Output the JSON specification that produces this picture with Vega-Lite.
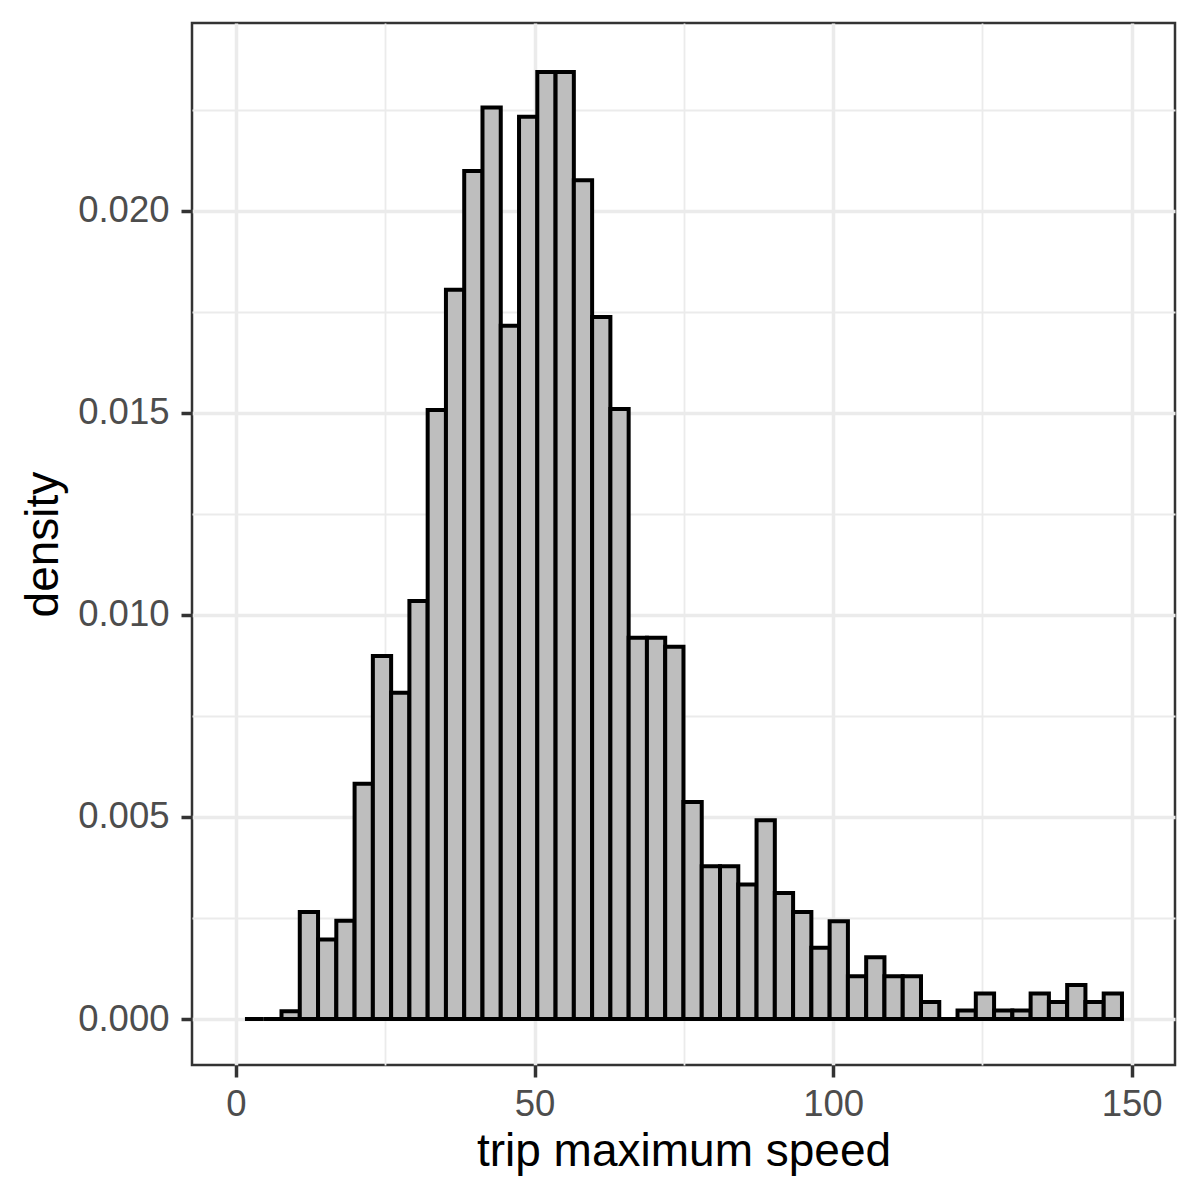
{
  "$schema": "https://vega.github.io/schema/vega-lite/v6.json",
  "width": 983,
  "height": 1042,
  "autosize": {"type": "none"},
  "padding": {"left": 192, "top": 23, "right": 25, "bottom": 135},
  "background": "white",
  "config": {
    "font": "Liberation Sans",
    "view": {"stroke": "#333333", "strokeWidth": 2.5}
  },
  "data": {
    "values": [
      {"x0": 1.50, "x1": 4.56, "density": 0},
      {"x0": 4.56, "x1": 7.62, "density": 0},
      {"x0": 7.62, "x1": 10.68, "density": 0.00019},
      {"x0": 10.68, "x1": 13.74, "density": 0.00265},
      {"x0": 13.74, "x1": 16.80, "density": 0.00197},
      {"x0": 16.80, "x1": 19.86, "density": 0.00243},
      {"x0": 19.86, "x1": 22.92, "density": 0.00582},
      {"x0": 22.92, "x1": 25.98, "density": 0.00898},
      {"x0": 25.98, "x1": 29.04, "density": 0.00807},
      {"x0": 29.04, "x1": 32.10, "density": 0.01034},
      {"x0": 32.10, "x1": 35.16, "density": 0.01507},
      {"x0": 35.16, "x1": 38.22, "density": 0.01804},
      {"x0": 38.22, "x1": 41.28, "density": 0.02098},
      {"x0": 41.28, "x1": 44.34, "density": 0.02255},
      {"x0": 44.34, "x1": 47.40, "density": 0.01715},
      {"x0": 47.40, "x1": 50.46, "density": 0.02232},
      {"x0": 50.46, "x1": 53.52, "density": 0.02343},
      {"x0": 53.52, "x1": 56.58, "density": 0.02343},
      {"x0": 56.58, "x1": 59.64, "density": 0.02075},
      {"x0": 59.64, "x1": 62.70, "density": 0.01737},
      {"x0": 62.70, "x1": 65.76, "density": 0.01509},
      {"x0": 65.76, "x1": 68.82, "density": 0.00943},
      {"x0": 68.82, "x1": 71.88, "density": 0.00943},
      {"x0": 71.88, "x1": 74.94, "density": 0.00921},
      {"x0": 74.94, "x1": 78.00, "density": 0.00537},
      {"x0": 78.00, "x1": 81.06, "density": 0.00378},
      {"x0": 81.06, "x1": 84.12, "density": 0.00378},
      {"x0": 84.12, "x1": 87.18, "density": 0.00333},
      {"x0": 87.18, "x1": 90.24, "density": 0.00492},
      {"x0": 90.24, "x1": 93.30, "density": 0.00312},
      {"x0": 93.30, "x1": 96.36, "density": 0.00265},
      {"x0": 96.36, "x1": 99.42, "density": 0.00176},
      {"x0": 99.42, "x1": 102.48, "density": 0.00242},
      {"x0": 102.48, "x1": 105.54, "density": 0.00106},
      {"x0": 105.54, "x1": 108.60, "density": 0.00153},
      {"x0": 108.60, "x1": 111.66, "density": 0.00106},
      {"x0": 111.66, "x1": 114.72, "density": 0.00106},
      {"x0": 114.72, "x1": 117.78, "density": 0.00042},
      {"x0": 117.78, "x1": 120.84, "density": 0},
      {"x0": 120.84, "x1": 123.90, "density": 0.00021},
      {"x0": 123.90, "x1": 126.96, "density": 0.00063},
      {"x0": 126.96, "x1": 130.02, "density": 0.00021},
      {"x0": 130.02, "x1": 133.08, "density": 0.00021},
      {"x0": 133.08, "x1": 136.14, "density": 0.00063},
      {"x0": 136.14, "x1": 139.20, "density": 0.00042},
      {"x0": 139.20, "x1": 142.26, "density": 0.00084},
      {"x0": 142.26, "x1": 145.32, "density": 0.00042},
      {"x0": 145.32, "x1": 148.38, "density": 0.00063}
    ]
  },
  "mark": {"type": "rect", "fill": "#BEBEBE", "stroke": "black", "strokeWidth": 4, "strokeJoin": "miter"},
  "encoding": {
    "x": {
      "field": "x0",
      "type": "quantitative",
      "scale": {"domain": [-7.37, 157.26], "nice": false, "zero": false},
      "axis": {
        "title": "trip maximum speed",
        "values": [0, 25, 50, 75, 100, 125, 150],
        "labelExpr": "datum.value % 50 === 0 ? format(datum.value, 'd') : ''",
        "labelFlush": false,
        "labelOverlap": false,
        "domain": false,
        "grid": true,
        "gridColor": "#EBEBEB",
        "gridWidth": {"condition": {"test": "datum.value % 50 === 0", "value": 3.5}, "value": 1.8},
        "ticks": true,
        "tickColor": "#333333",
        "tickWidth": 3.5,
        "tickSize": 12,
        "tickOpacity": {"condition": {"test": "datum.value % 50 === 0", "value": 1}, "value": 0},
        "labelFontSize": 36.5,
        "labelColor": "#4D4D4D",
        "labelPadding": 9,
        "titleFontSize": 46,
        "titleFontWeight": "normal",
        "titleColor": "black",
        "titlePadding": 7
      }
    },
    "x2": {"field": "x1"},
    "y": {
      "field": "density",
      "type": "quantitative",
      "scale": {"domain": [-0.001138, 0.024642], "nice": false, "zero": false},
      "axis": {
        "title": "density",
        "values": [0, 0.0025, 0.005, 0.0075, 0.01, 0.0125, 0.015, 0.0175, 0.02, 0.0225],
        "labelExpr": "abs(datum.value * 200 - round(datum.value * 200)) < 0.001 ? format(datum.value, '.3f') : ''",
        "labelOverlap": false,
        "labelFlush": false,
        "domain": false,
        "grid": true,
        "gridColor": "#EBEBEB",
        "gridWidth": {"condition": {"test": "abs(datum.value * 200 - round(datum.value * 200)) < 0.001", "value": 3.5}, "value": 1.8},
        "ticks": true,
        "tickColor": "#333333",
        "tickWidth": 3.5,
        "tickSize": 11,
        "tickOpacity": {"condition": {"test": "abs(datum.value * 200 - round(datum.value * 200)) < 0.001", "value": 1}, "value": 0},
        "labelFontSize": 36.5,
        "labelColor": "#4D4D4D",
        "labelPadding": 12,
        "titleFontSize": 46,
        "titleFontWeight": "normal",
        "titleColor": "black",
        "titlePadding": 10
      }
    },
    "y2": {"datum": 0}
  }
}
